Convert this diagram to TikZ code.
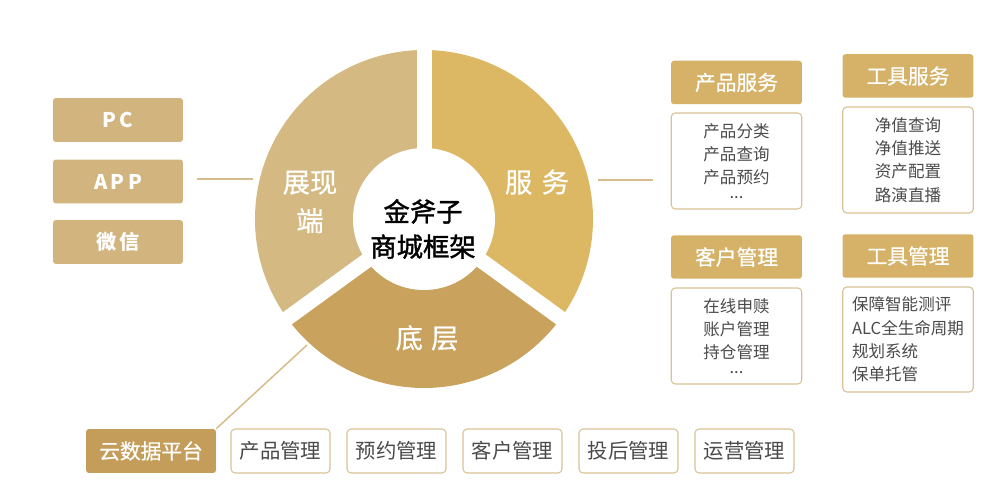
\documentclass[tikz,border=0pt]{standalone}
\usepackage{fontspec}
\setmainfont{Noto Sans CJK SC}
\newfontfamily\medfont[FakeBold=1.4]{Noto Sans CJK SC}
\newfontfamily\semifont[FakeBold=0.6]{Noto Sans CJK SC}
\usetikzlibrary{positioning}
\definecolor{sidetan}{HTML}{D2B57E}
\definecolor{showtan}{HTML}{D4B983}
\definecolor{servtan}{HTML}{DCB865}
\definecolor{basetan}{HTML}{C9A35D}
\definecolor{headtan}{HTML}{D5B268}
\definecolor{cloudtan}{HTML}{C49D5A}
\definecolor{edgetan}{HTML}{D8C196}
\definecolor{linktan}{HTML}{D6BC8A}
\definecolor{listgray}{HTML}{4A4A4A}

\begin{document}
\begin{tikzpicture}[x=0.02cm, y=-0.02cm,
		sidebox/.style={fill=sidetan, rounded corners=0.06cm, minimum width=2.6cm, minimum height=0.88cm, inner sep=0pt, text=white, font=\fontsize{11.5}{13}\selectfont\bfseries},
		headbox/.style={fill=headtan, rounded corners=0.06cm, minimum width=2.62cm, minimum height=0.87cm, inner sep=0pt, text=white, font=\fontsize{11.8}{13}\selectfont\semifont},
		listbox/.style={draw=edgetan, line width=0.6pt, rounded corners=0.08cm, minimum width=2.61cm, inner sep=0pt, text=listgray, font=\fontsize{9.4}{13.3}\selectfont},
		rowbox/.style={draw=edgetan, line width=0.6pt, rounded corners=0.08cm, minimum width=1.98cm, minimum height=0.88cm, inner sep=0pt, text=listgray, font=\fontsize{11.6}{13}\selectfont},
		seglabel/.style={text=white, align=center, font=\fontsize{15.5}{22}\selectfont\semifont},
		link/.style={draw=linktan, line width=0.04cm}]
	\useasboundingbox (0,0) rectangle (1004,496);
	% left side
	\node [sidebox] (pc) at (118,120) {P\,C};
	\node [sidebox] (app) at (118,181.5) {A\,P\,P};
	\node [sidebox] (wx) at (118,242) {微\,信};
	% ring
	\coordinate (o) at (424,219);
	\fill [servtan] (o) -- ++(-90:169) arc [start angle=-90, end angle=36, radius=169] -- cycle;
	\fill [basetan] (o) -- ++(36:169) arc [start angle=36, end angle=144, radius=169] -- cycle;
	\fill [showtan] (o) -- ++(144:169) arc [start angle=144, end angle=270, radius=169] -- cycle;
	\foreach \a in {-90,36,144}
		\draw [white, line width=0.3cm] (o) -- ++(\a:185);
	\fill [white] (o) circle [radius=71];
	\node [align=center, font=\fontsize{15}{20}\selectfont\medfont] (core) at (423,229) {金斧子\\商城框架};
	\node [seglabel] (show) at (310,202) {展现\\端};
	\node [seglabel] (serv) at (537,182) {服\hspace{0.35em}务};
	\node [seglabel] (base) at (427,338) {底\hspace{0.3em}层};
	% links
	\coordinate (showa) at (197,179);
	\coordinate (showb) at (253,179);
	\coordinate (serva) at (598,180);
	\coordinate (servb) at (653,180);
	\coordinate (basea) at (307,345);
	\draw [link] (showa) -- (showb);
	\draw [link] (serva) -- (servb);
	% right side
	\node [headbox] (prodhd) at (736.5,82.5) {产品服务};
	\node [headbox] (toolhd) at (908,76) {工具服务};
	\node [headbox] (custhd) at (736.5,257) {客户管理};
	\node [headbox] (mgmthd) at (908,256) {工具管理};
	\node [listbox, minimum height=1.92cm, align=center] (prodls) at (736.5,161) {产品分类\\产品查询\\产品预约\\[-5pt]...};
	\node [listbox, minimum height=2.12cm, align=left] (toolls) at (908,160) {净值查询\\净值推送\\资产配置\\路演直播};
	\node [listbox, minimum height=1.92cm, align=center] (custls) at (736.5,336) {在线申赎\\账户管理\\持仓管理\\[-5pt]...};
	\node [listbox, minimum height=2.1cm, align=left] (mgmtls) at (908,339.5) {保障智能测评\\ALC全生命周期\\规划系统\\保单托管};
	% bottom row
	\node [sidebox, fill=cloudtan, font=\fontsize{11.8}{13}\selectfont\semifont] (cloud) at (151,451) {云数据平台};
	\foreach \t [count=\i from 0] in {产品管理,预约管理,客户管理,投后管理,运营管理}
		\node [rowbox] (row\i) at (280.5+116*\i,451) {\t};
	\draw [link, line width=0.03cm] (basea) -- (cloud.north east);
\end{tikzpicture}
\end{document}
